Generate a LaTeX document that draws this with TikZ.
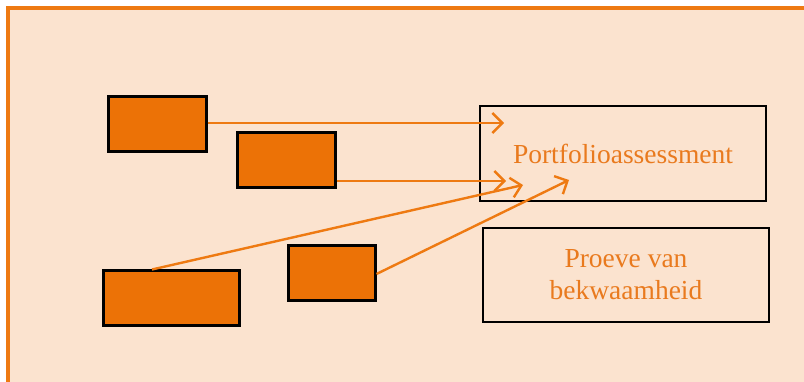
\documentclass[tikz,border=0pt]{standalone}
\usepackage{fontspec}
\setmainfont{Liberation Serif}
\usetikzlibrary{arrows.meta}
\definecolor{panel}{HTML}{FBE3CF}
\definecolor{frameorange}{HTML}{EE7A12}
\definecolor{blockorange}{HTML}{EC7206}
\definecolor{textorange}{HTML}{E97A1E}
\tikzset{
  block/.style={draw=black, line width=3pt, fill=blockorange, inner sep=0pt},
  target/.style={draw=black, line width=2.8pt, inner sep=0pt, align=center,
    text=textorange, font=\fontsize{27.5}{32}\selectfont},
  link/.style={draw=frameorange, line width=2.4pt,
    -{Straight Barb[length=10pt,width=20pt,line width=2.4pt]}},
}
\begin{document}
\begin{tikzpicture}[x=1pt,y=-1pt]
  \useasboundingbox (0,0) rectangle (804,382);
  % panel with its orange frame (open to the right and bottom)
  \fill[panel] (8,8) rectangle (810,390);
  \draw[frameorange, line width=3.5pt] (8,390) -- (8,8) -- (810,8);

  % orange source blocks
  \node[block, minimum width=98pt, minimum height=55pt] (a) at (157,124.5) {};
  \node[block, minimum width=98pt, minimum height=55pt] (b) at (286,160.5) {};
  \node[block, minimum width=136pt, minimum height=55pt] (c) at (171,298.5) {};
  \node[block, minimum width=87pt, minimum height=55pt] (d) at (331.5,273.5) {};

  % outcome boxes
  \node[target, minimum width=286pt, minimum height=95pt] (p) at (623,153.5) {Portfolioassessment};
  \node[target, minimum width=286pt, minimum height=94pt] (q) at (626,275) {Proeve van\\bekwaamheid};

  % arrow end points inside the portfolio box
  \coordinate (ta) at (504,123);
  \coordinate (tb) at (506,181);
  \coordinate (tc) at (523,185);
  \coordinate (td) at (569,180);

  \draw[link] (a.east |- 0,123) -- (ta);
  \draw[link] (b.east |- 0,181) -- (tb);
  \draw[link] (c.north -| 152,0) -- (tc);
  \draw[link] (d.east |- 0,274) -- (td);
\end{tikzpicture}
\end{document}
